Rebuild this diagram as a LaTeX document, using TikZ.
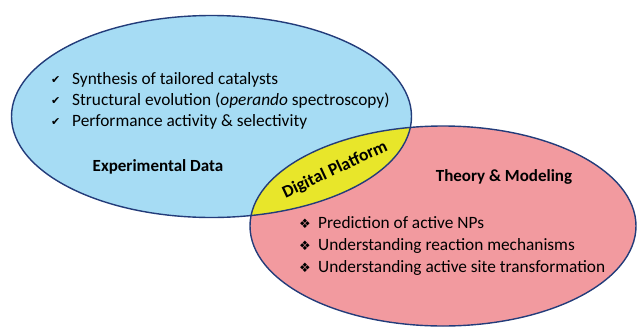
\documentclass[tikz,border=0pt]{standalone}
\usepackage{fontspec}
\setmainfont{Carlito}
\newfontfamily\symfont{DejaVu Sans}
\definecolor{edgeblue}{HTML}{233C7A}
\definecolor{skyfill}{HTML}{A6DCF4}
\definecolor{rosefill}{HTML}{F29A9F}
\definecolor{lemonfill}{HTML}{E8E62A}
\begin{document}
\begin{tikzpicture}[x=1pt,y=-1pt,
  outline/.style={draw=edgeblue,line width=1.4pt},
  item/.style={anchor=base west,inner sep=0pt,font=\fontsize{17.3}{20}\selectfont},
  tick/.style={anchor=base west,inner sep=0pt,font=\symfont\fontsize{13}{15}\selectfont},
  head/.style={inner sep=0pt,font=\bfseries\fontsize{17}{20}\selectfont}]
\useasboundingbox (0,0) rectangle (637,327);
\def\expE{(211.5,116.5) ellipse [x radius=200pt,y radius=101pt]}
\def\theoE{(443,226) ellipse [x radius=193pt,y radius=100pt]}
% the two sets and their overlap
\fill[skyfill] \expE;
\fill[rosefill] \theoE;
\begin{scope}
  \clip \expE;
  \fill[lemonfill] \theoE;
\end{scope}
\draw[outline] \expE;
\draw[outline] \theoE;
% experimental side
\foreach \y/\n in {83/1,104/2,125/3}
  \node[tick,font=\symfont\fontsize{11}{13}\selectfont] (c\n) at (51,\y) {✔};
\node[item] (e1) at (72,84) {Synthesis of tailored catalysts};
\node[item] (e2) at (72,105) {Structural evolution (\textit{operando} spectroscopy)};
\node[item] (e3) at (72,126) {Performance activity \& selectivity};
\node[head] (exp) at (158,167) {Experimental Data};
% theory side
\foreach \y/\n in {228/1,250/2,272/3}
  \node[tick] (d\n) at (299,\y) {❖};
\node[item] (t1) at (318,228) {Prediction of active NPs};
\node[item] (t2) at (318,250) {Understanding reaction mechanisms};
\node[item] (t3) at (318,272) {Understanding active site transformation};
\node[head] (theo) at (504,177) {Theory \& Modeling};
% overlap label
\node[head,rotate=25,font=\bfseries\fontsize{17.5}{20}\selectfont] (dp) at (335,170) {Digital Platform};
\end{tikzpicture}
\end{document}
